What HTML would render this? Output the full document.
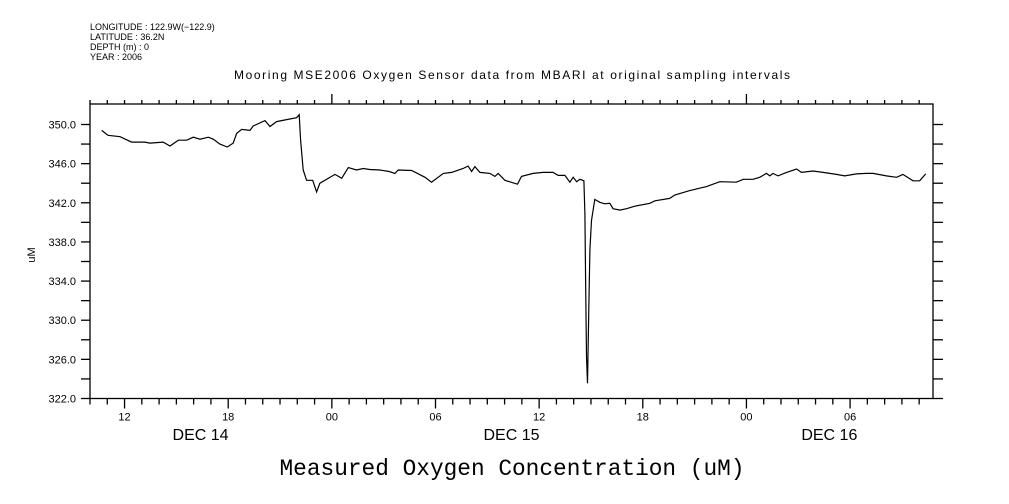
<!DOCTYPE html>
<html><head><meta charset="utf-8"><style>
html,body{margin:0;padding:0;background:#fff;}
svg{display:block;}
text{font-family:"Liberation Sans",sans-serif;fill:#000;}
</style></head><body>
<svg id="chart" width="1009" height="504" viewBox="0 0 1009 504" xmlns="http://www.w3.org/2000/svg">
<g font-size="9">
<text x="90" y="30">LONGITUDE : 122.9W(−122.9)</text>
<text x="90" y="40">LATITUDE : 36.2N</text>
<text x="90" y="50">DEPTH (m) : 0</text>
<text x="90" y="60">YEAR : 2006</text>
</g>
<text x="512" y="79" text-anchor="middle" font-size="12" textLength="556">Mooring MSE2006 Oxygen Sensor data from MBARI at original sampling intervals</text>
<text transform="translate(35,255) rotate(-90)" text-anchor="middle" font-size="11">uM</text>
<text x="512" y="475" text-anchor="middle" font-size="22.8" textLength="465" style="font-family:'Liberation Mono',monospace">Measured Oxygen Concentration (uM)</text>
<g id="axes"></g>
<g id="series"></g>
</svg>
<script>
const times = [10.68,11.04,11.74,12.41,13.18,13.47,14.24,14.63,15.11,15.60,15.98,16.37,16.85,17.14,17.52,17.95,18.29,18.49,18.78,19.26,19.45,20.13,20.42,20.80,21.38,21.96,22.11,22.19,22.34,22.54,22.89,23.12,23.31,24.18,24.57,24.95,25.43,25.82,26.20,26.78,27.32,27.65,27.84,28.62,29.39,29.77,30.45,30.93,31.60,31.89,32.09,32.28,32.57,33.15,33.44,33.63,34.02,34.75,34.98,35.65,36.23,36.81,37.10,37.49,37.78,37.97,38.17,38.36,38.59,38.65,38.69,38.74,38.80,38.88,38.94,39.03,39.22,39.51,39.80,40.09,40.28,40.67,41.06,41.54,42.41,42.70,43.56,43.85,44.72,45.69,46.46,47.42,47.81,48.38,48.77,49.16,49.35,49.54,49.83,50.32,50.90,51.19,51.86,52.44,53.21,53.69,54.37,54.95,55.33,56.10,56.69,57.06,57.64,58.03,58.38];
const oxygen = [349.4,348.9,348.75,348.2,348.2,348.1,348.2,347.8,348.4,348.4,348.7,348.5,348.7,348.5,348.0,347.7,348.1,349.1,349.5,349.4,349.85,350.4,349.8,350.3,350.5,350.7,351.0,348.4,345.35,344.3,344.3,343.1,344.0,344.9,344.5,345.6,345.35,345.5,345.4,345.35,345.2,345.0,345.35,345.3,344.6,344.1,345.0,345.1,345.5,345.75,345.2,345.7,345.1,345.0,344.7,345.0,344.3,343.9,344.7,345.0,345.1,345.1,344.8,344.8,344.1,344.6,344.15,344.4,344.25,340.9,334.1,326.3,323.55,331.7,337.2,340.2,342.35,342.05,341.9,341.95,341.4,341.25,341.4,341.65,341.95,342.2,342.45,342.8,343.25,343.65,344.15,344.1,344.4,344.4,344.6,345.0,344.75,345.0,344.75,345.1,345.45,345.1,345.25,345.1,344.9,344.75,344.95,345.0,345.0,344.75,344.6,344.9,344.25,344.25,344.95];
const yTickValues = [350,346,342,338,334,330,326,322];
const yTickLabels = ["350.0","346.0","342.0","338.0","334.0","330.0","326.0","322.0"];
const xTickHours = [12,18,24,30,36,42,48,54];
const xTickLabels = ["12","18","00","06","12","18","00","06"];
const dayCenters = [16.4,34.4,52.8];
const dayLabels = ["DEC 14","DEC 15","DEC 16"];

const L=90,R=933,T=104,B=398.5;
const hMin=10,hMax=58.8,vMin=322,vMax=350;
const xs=h=>L+(h-hMin)*(R-L)/(hMax-hMin);
const ys=v=>398.5-(v-vMin)*(398.5-124.5)/(vMax-vMin);
const NS="http://www.w3.org/2000/svg";
const ax=document.getElementById('axes');
function ln(x1,y1,x2,y2,name){const l=document.createElementNS(NS,'line');l.setAttribute('x1',x1);l.setAttribute('y1',y1);l.setAttribute('x2',x2);l.setAttribute('y2',y2);l.setAttribute('stroke','#000');l.setAttribute('stroke-width','1.3');


ax.appendChild(l);return l;}
function tx(x,y,s,size,anchor,name){const t=document.createElementNS(NS,'text');t.setAttribute('x',x);t.setAttribute('y',y);t.setAttribute('font-size',size);t.setAttribute('text-anchor',anchor);t.textContent=s;


ax.appendChild(t);}
const fr=document.createElementNS(NS,'rect');fr.setAttribute('x',L);fr.setAttribute('y',T);fr.setAttribute('width',R-L);fr.setAttribute('height',B-T);fr.setAttribute('fill','none');fr.setAttribute('stroke','#000');fr.setAttribute('stroke-width','1.3');


ax.appendChild(fr);
for(let v=vMin;v<=vMax+0.01;v+=2){const y=ys(v);ln(L-9,y,L,y,'y-tick');ln(R,y,R+10,y,'y-tick-right');}
yTickValues.forEach((v,i)=>tx(L-14,ys(v)+4,yTickLabels[i],11,'end','y-tick-label'));
for(let h=10;h<=58;h++){const x=xs(h);const major=(h%6===0);ln(x,B,x,B+(major?10:6),'x-tick');ln(x,T,x,T-(h%24===0?10:4),'x-tick-top');}
xTickHours.forEach((h,i)=>tx(xs(h),B+22,xTickLabels[i],11,'middle','x-tick-label'));
dayLabels.forEach((d,i)=>tx(xs(dayCenters[i]),440,d,16,'middle','day-label'));
const p=document.createElementNS(NS,'path');
p.setAttribute('d',times.map((t,i)=>(i?'L':'M')+xs(t).toFixed(1)+','+ys(oxygen[i]).toFixed(1)).join(''));
p.setAttribute('fill','none');p.setAttribute('stroke','#000');p.setAttribute('stroke-width','1.2');


document.getElementById('series').appendChild(p);
</script>
</body></html>
